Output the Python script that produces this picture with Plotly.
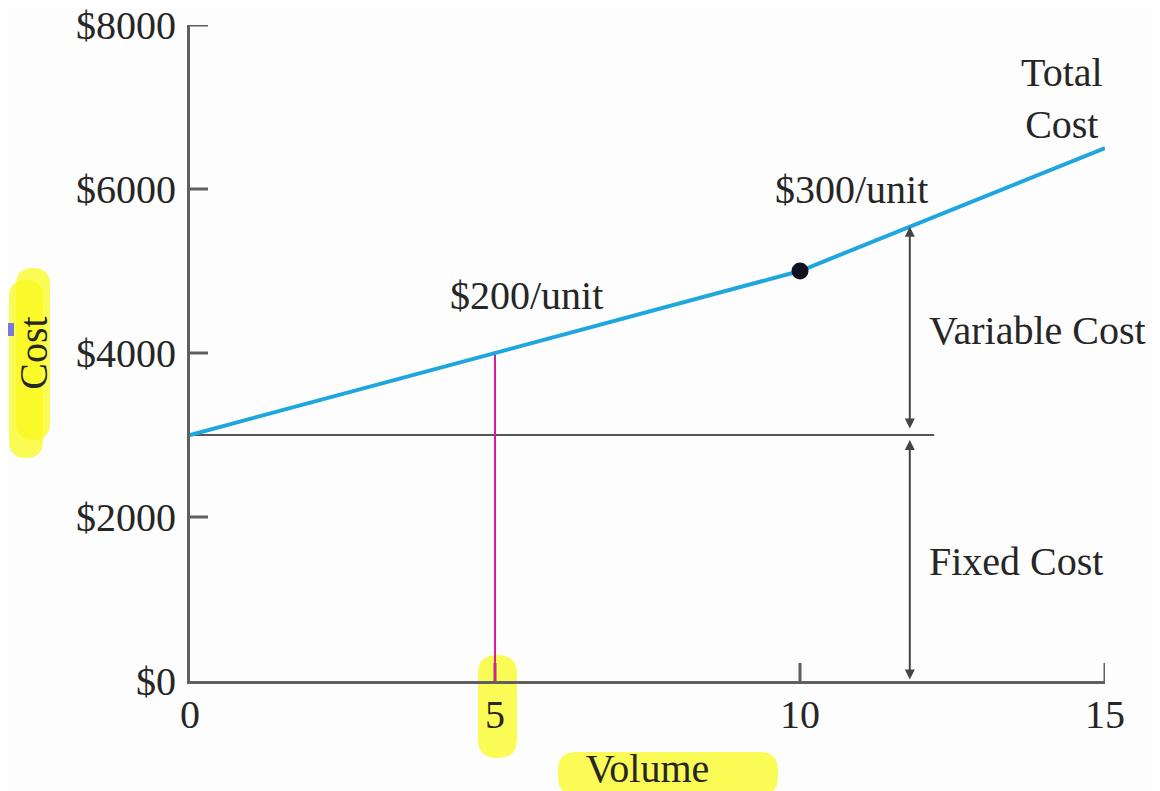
import numpy as np
import plotly.graph_objects as go

# ---- data ----
volume = [0, 10, 15]
total_cost = [3000, 5000, 6500]
fixed_cost = 3000
kink_volume = [10]
kink_cost = [5000]
marker_volume = 5
marker_cost = 4000
arrow_volume = 11.8
fixed_line_end = 12.2
x_ticks = [0, 5, 10, 15]
x_tick_labels = ["0", "5", "10", "15"]
y_ticks = [0, 2000, 4000, 6000, 8000]
y_tick_labels = ["$0", "$2000", "$4000", "$6000", "$8000"]

FONT = "Liberation Serif, Times New Roman, serif"
TXT = "#262626"
AX = "#5f5f5f"
FS = 40

# figure is drawn 8px in from the page edge (browser body margin)
OFF = 8
W, H = 1160 - OFF, 791 - OFF
L, R, T, B = 190 - OFF, 55, 25 - OFF, 110
pw, ph = W - L - R, H - T - B
TICKLEN = 18
X_RANGE = [0, 15]
Y_RANGE = [0, 8000]

fig = go.Figure()

# tick marks pointing into the plot area (short segments at the tick values)
ytx, yty = [], []
dx = TICKLEN / pw * (X_RANGE[1] - X_RANGE[0])
for v in y_ticks[1:]:
    ytx += [X_RANGE[0], X_RANGE[0] + dx, None]
    yty += [v, v, None]
fig.add_trace(go.Scatter(x=ytx, y=yty, mode="lines", line=dict(color=AX, width=3),
                         hoverinfo="skip", showlegend=False, cliponaxis=False))
xtx, xty = [], []
dy = TICKLEN / ph * (Y_RANGE[1] - Y_RANGE[0])
for v in x_ticks[1:]:
    xtx += [v, v, None]
    xty += [Y_RANGE[0], Y_RANGE[0] + dy, None]
fig.add_trace(go.Scatter(x=xtx, y=xty, mode="lines", line=dict(color=AX, width=3),
                         hoverinfo="skip", showlegend=False, cliponaxis=False))

# fixed cost horizontal line
fig.add_trace(go.Scatter(x=[0, fixed_line_end], y=[fixed_cost, fixed_cost], mode="lines",
                         line=dict(color="#555555", width=2), hoverinfo="skip", showlegend=False))
# magenta marker line at volume 5
fig.add_trace(go.Scatter(x=[marker_volume, marker_volume], y=[0, marker_cost], mode="lines",
                         line=dict(color="#e0189a", width=2), hoverinfo="skip", showlegend=False))
# total cost line
fig.add_trace(go.Scatter(x=volume, y=total_cost, mode="lines",
                         line=dict(color="#1ea6df", width=4), showlegend=False, cliponaxis=False))
# kink point
fig.add_trace(go.Scatter(x=kink_volume, y=kink_cost, mode="markers",
                         marker=dict(color="#111122", size=17), showlegend=False))

top_var = float(np.interp(arrow_volume, volume, total_cost))

arrow_common = dict(xref="x", yref="y", axref="x", ayref="y", showarrow=True,
                    arrowcolor="#444444", arrowwidth=2, arrowhead=2, startarrowhead=2,
                    arrowsize=1, startarrowsize=1, arrowside="end+start", text="",
                    standoff=0, startstandoff=0)
fig.add_annotation(x=arrow_volume, y=top_var, ax=arrow_volume, ay=fixed_cost + 60, **arrow_common)
fig.add_annotation(x=arrow_volume, y=fixed_cost - 60, ax=arrow_volume, ay=0, **arrow_common)

labels = [
    dict(x=5.52, y=4700, text="$200/unit", xanchor="center"),
    dict(x=10.85, y=6000, text="$300/unit", xanchor="center"),
    dict(x=14.3, y=7100, text="Total<br>Cost", xanchor="center"),
    dict(x=12.08, y=4270, text="Variable Cost", xanchor="left"),
    dict(x=12.08, y=1460, text="Fixed Cost", xanchor="left"),
]
for l in labels:
    fig.add_annotation(xref="x", yref="y", showarrow=False, yanchor="middle",
                       font=dict(family=FONT, size=FS, color=TXT), **l)

def px(x):
    return (x - OFF - L) / pw

def py(y):
    return (H - B - (y - OFF)) / ph

def rounded(x0, y0, x1, y1, r):
    p = [
        f"M {px(x0 + r)},{py(y0)}",
        f"L {px(x1 - r)},{py(y0)}",
        f"Q {px(x1)},{py(y0)} {px(x1)},{py(y0 + r)}",
        f"L {px(x1)},{py(y1 - r)}",
        f"Q {px(x1)},{py(y1)} {px(x1 - r)},{py(y1)}",
        f"L {px(x0 + r)},{py(y1)}",
        f"Q {px(x0)},{py(y1)} {px(x0)},{py(y1 - r)}",
        f"L {px(x0)},{py(y0 + r)}",
        f"Q {px(x0)},{py(y0)} {px(x0 + r)},{py(y0)}",
        "Z",
    ]
    return " ".join(p)

hl = "rgba(250,250,30,0.75)"
for (x0, y0, x1, y1, r) in [(16, 268, 50, 440, 17), (9, 280, 43, 458, 17),
                            (478, 655, 517, 758, 19), (558, 752, 778, 795, 18)]:
    fig.add_shape(type="path", xref="paper", yref="paper", path=rounded(x0, y0, x1, y1, r),
                  fillcolor=hl, line=dict(width=0), layer="below")
# small bullet square at left edge
fig.add_shape(type="rect", xref="paper", yref="paper", x0=px(OFF), x1=px(OFF + 6), y0=py(336), y1=py(323),
              fillcolor="#7a7ad6", line=dict(width=0))

fig.update_layout(
    width=W, height=H,
    margin=dict(l=L, r=R, t=T, b=B),
    paper_bgcolor="#fdfdfd", plot_bgcolor="#fdfdfd",
    font=dict(family=FONT, size=FS, color=TXT),
    showlegend=False,
    xaxis=dict(range=X_RANGE, tickvals=x_ticks, ticktext=x_tick_labels, ticks="",
               showline=True, linecolor=AX, linewidth=3, ticklabeloverflow="allow",
               showgrid=False, zeroline=False, ticklabelstandoff=-4, automargin=False,
               title=dict(text="Volume", standoff=41, font=dict(size=FS)), fixedrange=True),
    yaxis=dict(range=Y_RANGE, tickvals=y_ticks, ticktext=y_tick_labels, ticks="",
               showline=True, linecolor=AX, linewidth=3, ticklabeloverflow="allow",
               showgrid=False, zeroline=False, ticklabelstandoff=3, automargin=False,
               title=dict(text="Cost", standoff=17, font=dict(size=FS)), fixedrange=True),
)

fig.write_html("out.html")
